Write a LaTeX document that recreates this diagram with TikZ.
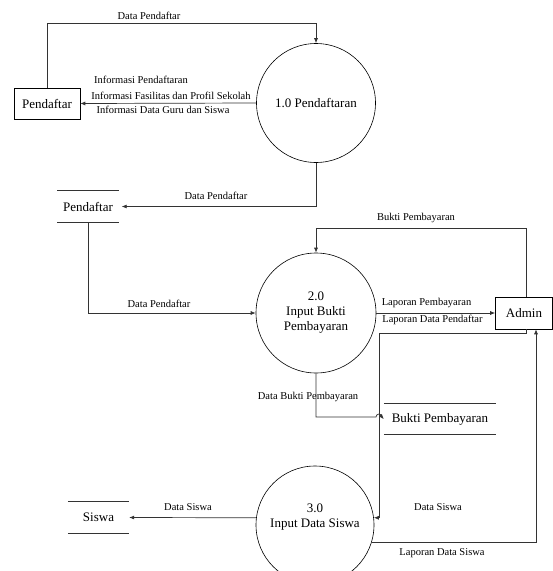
\documentclass[tikz,border=0pt]{standalone}
\usepackage{fontspec}
\setmainfont{Liberation Serif}
\usetikzlibrary{positioning,arrows.meta}

\begin{document}
\begin{tikzpicture}[
    x=1pt, y=-1pt,
    process/.style={circle, draw, line width=0.6pt, inner sep=0pt, align=center, font=\fontsize{13}{15}\selectfont},
    entity/.style={rectangle, draw, line width=0.6pt, inner sep=0pt, font=\fontsize{13}{15}\selectfont},
    store/.style={rectangle, inner sep=0pt, font=\fontsize{13}{15}\selectfont},
    storeline/.style={draw=black!80, line width=0.7pt},
    flow/.style={-{Latex[length=5pt,width=4pt]}, draw=black!80, line width=0.7pt},
    flowtext/.style={font=\fontsize{10.5}{12}\selectfont, inner sep=0pt},
]
\clip (0,0) rectangle (553,571);

% processes
\node[process, minimum size=119pt] (P1) at (316,103) {1.0 Pendaftaran};
\node[process, minimum size=120pt] (P2) at (316,313) {2.0\\Input Bukti\\Pembayaran};
\node[process, minimum size=118pt] (P3) at (315,525) {};
\node[store, align=center, font=\fontsize{13}{15}\selectfont] (P3text) at (315,517) {3.0\\Input Data Siswa};

% entities
\node[entity, minimum width=66pt, minimum height=31pt] (ePend) at (47,103.5) {Pendaftar};
\node[entity, minimum width=57pt, minimum height=32pt] (eAdmin) at (524,313) {Admin};

% data stores
\node[store, minimum width=61pt, minimum height=31pt] (dsPend) at (88,206.5) {Pendaftar};
\node[store, minimum width=112pt, minimum height=30pt] (dsBukti) at (440,419) {Bukti Pembayaran};
\node[store, minimum width=61pt, minimum height=31pt] (dsSiswa) at (98.5,517.5) {Siswa};
\foreach \s in {dsPend,dsBukti,dsSiswa}{
  \draw[storeline] (\s.north west) -- (\s.north east);
  \draw[storeline] (\s.south west) -- (\s.south east);
}

% flows
\draw[flow] (ePend.north) |- (316,23) -- (P1.north);
\draw[flow] (P1.west) -- (ePend.east);
\draw[flow, shorten >=3pt] (P1.south) |- (dsPend.east);
\draw[flow] (dsPend.south) |- (P2.west);
\draw[flow] ([xshift=2pt]eAdmin.north) |- (316,228) -- (P2.north);
\draw[flow] (P2.east) -- (eAdmin.west);
\draw[flow] ([xshift=2pt]eAdmin.south) |- (379,333) |- (P3.7);
\draw[flow] (P3.-17) -| ([xshift=12pt]eAdmin.south);
\draw[flow] (P2.south) |- (376,417) arc (180:360:3) -- (dsBukti.west);
\draw[flow] (P3.173) -- (dsSiswa.east);

% flow labels
\node[flowtext] (lTop) at (149,16) {Data Pendaftar};
\node[flowtext] (lInfo1) at (141,80) {Informasi Pendaftaran};
\node[flowtext] (lInfo2) at (171,96) {Informasi Fasilitas dan Profil Sekolah};
\node[flowtext] (lInfo3) at (163,110) {Informasi Data Guru dan Siswa};
\node[flowtext] (lStore1) at (216,196) {Data Pendaftar};
\node[flowtext] (lStore2) at (159,304) {Data Pendaftar};
\node[flowtext] (lBukti) at (416,218) {Bukti Pembayaran};
\node[flowtext] (lLapBayar) at (426.5,303) {Laporan Pembayaran};
\node[flowtext] (lLapDaftar) at (432.5,320) {Laporan Data Pendaftar};
\node[flowtext] (lDataBukti) at (308,397) {Data Bukti Pembayaran};
\node[flowtext] (lSiswaA) at (438,507) {Data Siswa};
\node[flowtext] (lSiswaS) at (188,507) {Data Siswa};
\node[flowtext] (lLapSiswa) at (442,553) {Laporan Data Siswa};

\end{tikzpicture}
\end{document}
